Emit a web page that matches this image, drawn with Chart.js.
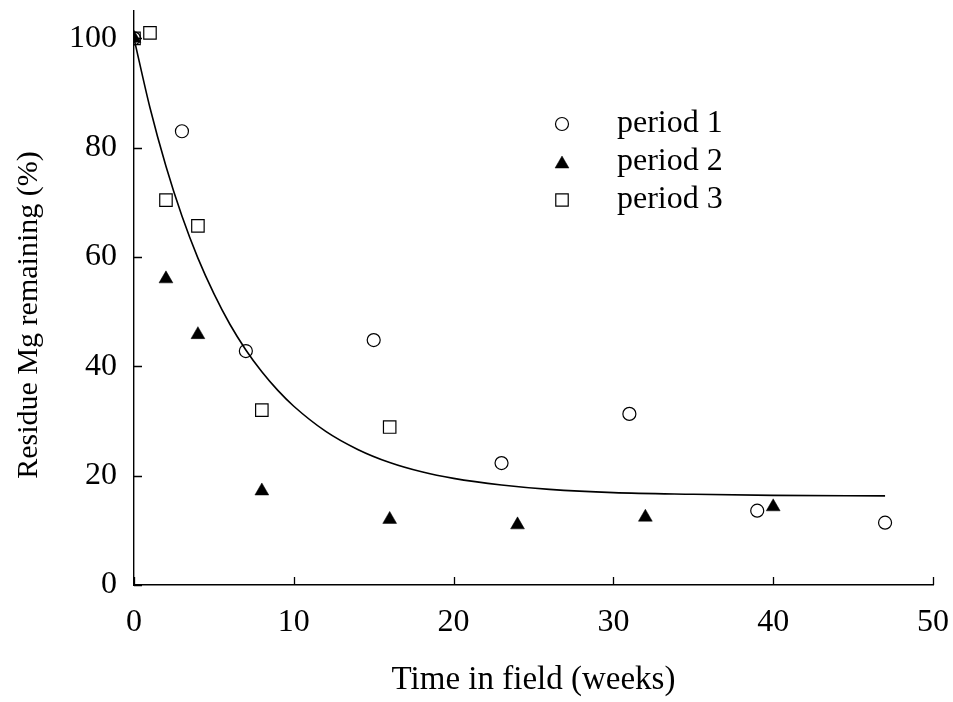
<!DOCTYPE html>
<html>
<head>
<meta charset="utf-8">
<script src="https://cdn.jsdelivr.net/npm/chart.js@4/dist/chart.umd.min.js"></script>
<style>
  html, body { margin: 0; padding: 0; background: #fff; }
  #wrap { width: 953px; height: 702px; position: relative; }
</style>
</head>
<body>
<div id="wrap"><canvas id="c" width="953" height="702"></canvas></div>
<script>
// ---- data ----
const period1X = [0, 3, 7, 15, 23, 31, 39, 47];
const period1Y = [100, 83, 42.8, 44.8, 22.3, 31.3, 13.6, 11.4];
const period2X = [0, 2, 4, 8, 16, 24, 32, 40];
const period2Y = [100, 56.0, 45.8, 17.2, 12.0, 11.0, 12.4, 14.3];
const period3X = [0, 1, 2, 4, 8, 16];
const period3Y = [100, 101, 70.4, 65.7, 32.0, 28.9];
const fitX = [0, 1, 2, 3, 4, 5, 6, 7, 8, 9, 10, 12, 14, 16, 18, 20, 23, 26, 30, 35, 40, 47];
const fitY = [100, 87.3, 76.6, 67.5, 59.8, 53.3, 47.7, 43.0, 39.0, 35.6, 32.7, 28.1, 24.8, 22.4, 20.7, 19.5, 18.3, 17.5, 16.9, 16.6, 16.4, 16.3];
const xTicks = [0, 10, 20, 30, 40, 50];
const yTicks = [0, 20, 40, 60, 80, 100];
const seriesNames = ['period 1', 'period 2', 'period 3'];
const xTitle = 'Time in field (weeks)';
const yTitle = 'Residue Mg remaining (%)';

const pts = (xs, ys) => xs.map((x, i) => ({ x: x, y: ys[i] }));
const FONT = 'Liberation Serif, Times New Roman, serif';

const inwardTicks = {
  id: 'inwardTicks',
  afterDatasetsDraw(chart) {
    const ctx = chart.ctx, xs = chart.scales.x, ys = chart.scales.y;
    const ca = chart.chartArea;
    ctx.save();
    ctx.strokeStyle = '#000';
    ctx.lineWidth = 1.3;
    ctx.beginPath();
    xTicks.forEach(v => {
      const p = Math.round(xs.getPixelForValue(v)) + 0.5;
      ctx.moveTo(p, ca.bottom);
      ctx.lineTo(p, ca.bottom - 8);
    });
    yTicks.forEach(v => {
      const p = Math.round(ys.getPixelForValue(v)) + 0.5;
      ctx.moveTo(ca.left, p);
      ctx.lineTo(ca.left + 8, p);
    });
    ctx.stroke();
    ctx.restore();
  }
};

// y-axis title, drawn beside the y scale (slightly below its centre, as in the reference)
const yTitlePlugin = {
  id: 'yTitle',
  afterDraw(chart) {
    const ctx = chart.ctx, ys = chart.scales.y;
    const cy = (ys.top + ys.bottom) / 2 + 17;
    ctx.save();
    ctx.translate(29, cy);
    ctx.rotate(-Math.PI / 2);
    ctx.fillStyle = '#000';
    ctx.font = '30px ' + FONT;
    ctx.textAlign = 'center';
    ctx.textBaseline = 'middle';
    ctx.fillText(yTitle, 0, 0);
    ctx.restore();
  }
};

const legendPlugin = {
  id: 'customLegend',
  afterDraw(chart) {
    const ctx = chart.ctx;
    const rows = [124, 162, 200];
    const mx = 562, tx = 617;
    ctx.save();
    [0, 1, 2].forEach((di, i) => {
      const ds = chart.data.datasets[di];
      const y = rows[i];
      ctx.fillStyle = ds.pointBackgroundColor;
      ctx.strokeStyle = ds.pointBorderColor;
      ctx.lineWidth = ds.pointBorderWidth;
      const opts = { pointStyle: ds.pointStyle, radius: ds.pointRadius, rotation: 0, borderWidth: ds.pointBorderWidth };
      let yy = y;
      if (ds.pointStyle === 'triangle') yy = y + ds.pointRadius / 4;
      Chart.helpers.drawPoint(ctx, opts, mx, yy);
      ctx.fillStyle = '#000';
      ctx.font = '32px ' + FONT;
      ctx.textBaseline = 'middle';
      ctx.textAlign = 'left';
      ctx.fillText(seriesNames[di], tx, y);
    });
    ctx.restore();
  }
};

new Chart(document.getElementById('c'), {
  type: 'scatter',
  data: {
    datasets: [
      {
        label: seriesNames[0], data: pts(period1X, period1Y),
        pointStyle: 'circle', pointRadius: 6.5, pointBorderWidth: 1.2,
        pointBackgroundColor: 'rgba(255,255,255,0)', pointBorderColor: '#000',
        order: 3
      },
      {
        label: seriesNames[1], data: pts(period2X, period2Y),
        pointStyle: 'triangle', pointRadius: 8, pointBorderWidth: 0.5,
        pointBackgroundColor: '#000', pointBorderColor: '#000',
        order: 1
      },
      {
        label: seriesNames[2], data: pts(period3X, period3Y),
        pointStyle: 'rect', pointRadius: 8.8, pointBorderWidth: 1.2,
        pointBackgroundColor: 'rgba(255,255,255,0)', pointBorderColor: '#000',
        order: 2
      },
      {
        label: 'fit', data: pts(fitX, fitY),
        showLine: true, pointRadius: 0, borderColor: '#000', borderWidth: 1.6,
        cubicInterpolationMode: 'monotone', fill: false,
        order: 4
      }
    ]
  },
  options: {
    responsive: false,
    animation: false,
    events: [],
    layout: { padding: { top: 11, right: 20, left: 0, bottom: 0 } },
    plugins: { legend: { display: false }, tooltip: { enabled: false } },
    scales: {
      x: {
        type: 'linear', min: 0, max: 50,
        afterBuildTicks: s => { s.ticks = xTicks.map(v => ({ value: v })); },
        afterFit: s => { s.height = 117; s.paddingLeft = 0; s.paddingRight = 0; },
        grid: { display: false, drawTicks: false },
        border: { display: true, color: '#000', width: 1.4 },
        ticks: { color: '#000', font: { family: FONT, size: 32 }, padding: 18, maxRotation: 0 },
        title: { display: true, text: xTitle, color: '#000', font: { family: FONT, size: 33 }, padding: { top: 0, bottom: 2 } }
      },
      y: {
        type: 'linear', min: 0, max: 105,
        afterBuildTicks: s => { s.ticks = yTicks.map(v => ({ value: v })); },
        afterFit: s => { s.width = 134; s.paddingTop = 0; s.paddingBottom = 0; },
        grid: { display: false, drawTicks: false },
        border: { display: true, color: '#000', width: 1.4 },
        ticks: { color: '#000', font: { family: FONT, size: 32 }, padding: 17 },
        title: { display: false, text: yTitle }
      }
    }
  },
  plugins: [inwardTicks, yTitlePlugin, legendPlugin]
});
</script>
</body>
</html>
